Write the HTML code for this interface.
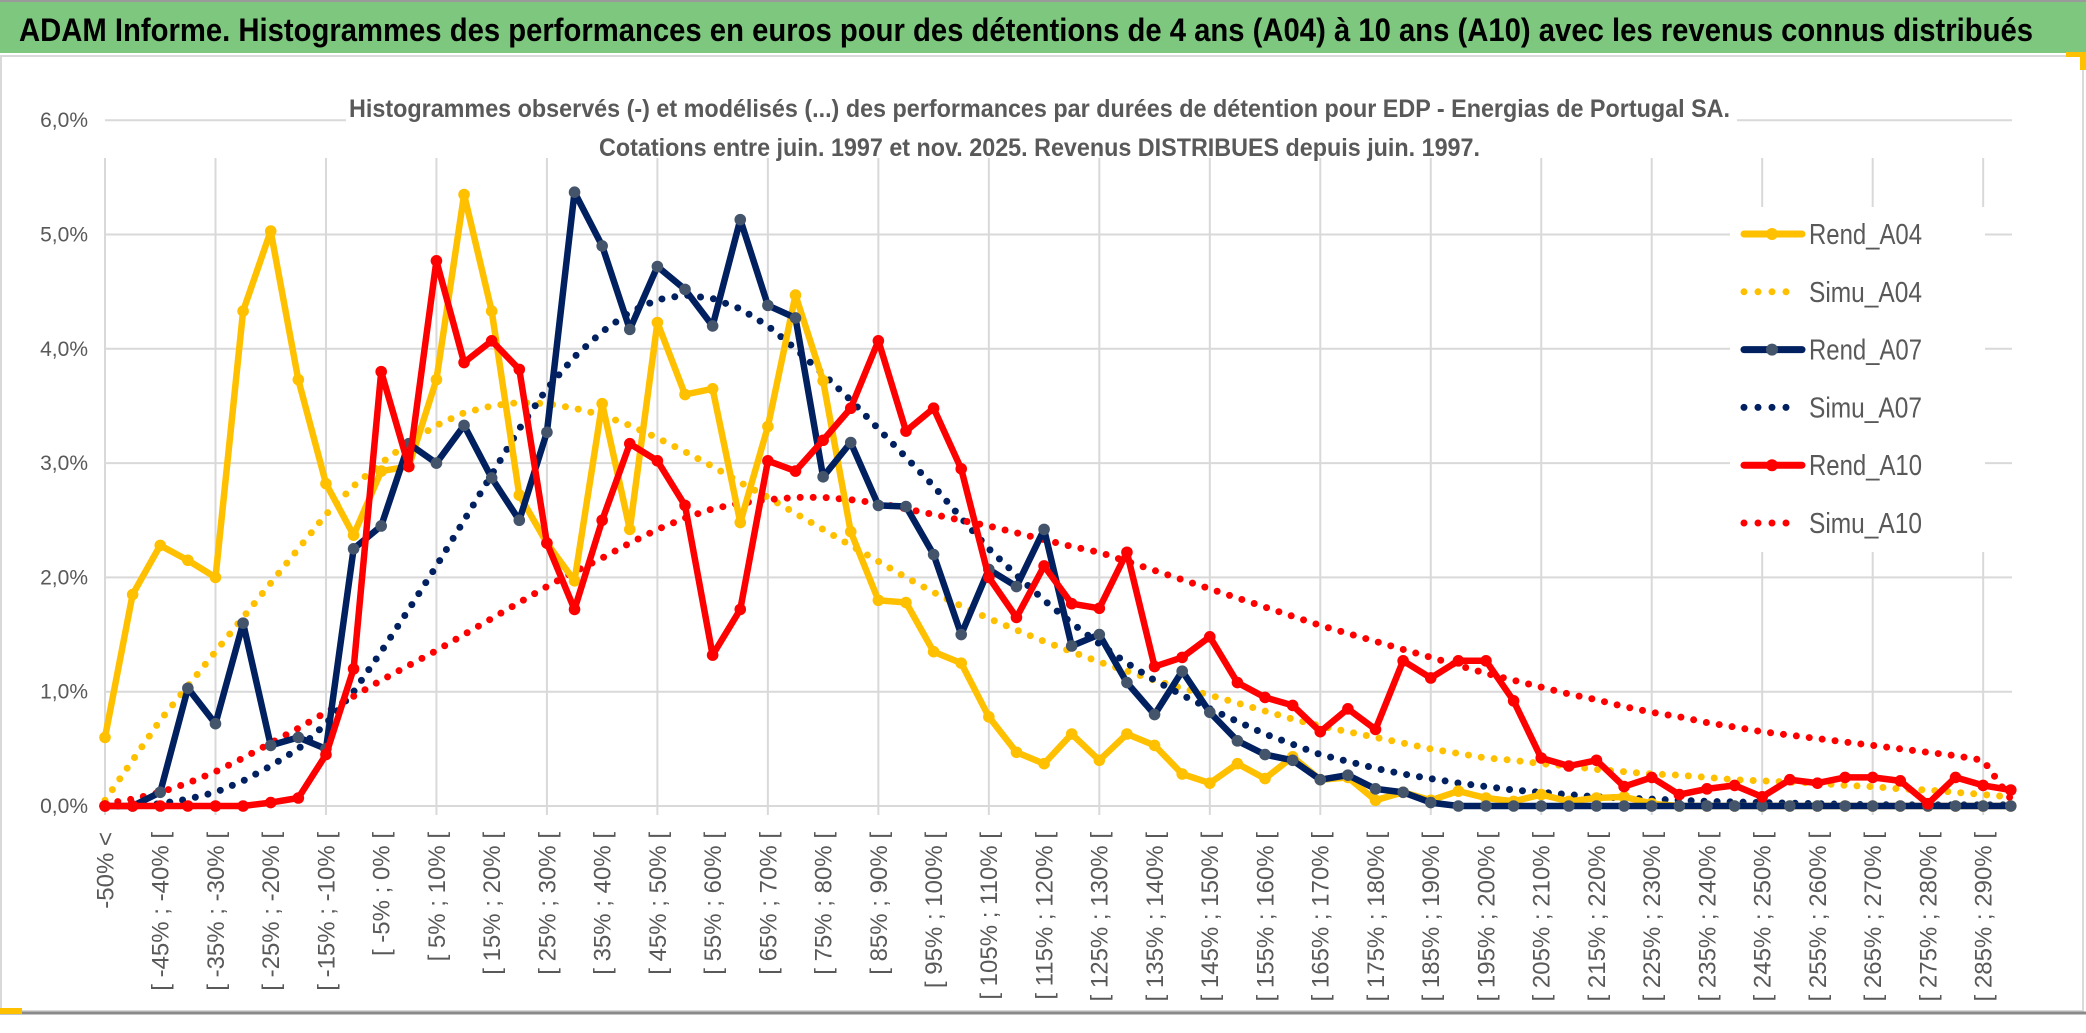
<!DOCTYPE html>
<html><head><meta charset="utf-8">
<style>
html,body{margin:0;padding:0;background:#fff;}
body{width:2086px;height:1033px;overflow:hidden;position:relative;}
svg{position:absolute;left:0;top:0;}
</style></head>
<body>
<svg id="chart" width="2086" height="1033" viewBox="0 0 2086 1033">
  <rect x="0" y="0" width="2086" height="1033" fill="#ffffff"/>
  <rect x="0" y="0" width="2086" height="53" fill="#7ec77e"/>
  <line x1="0" y1="1" x2="2086" y2="1" stroke="#9a9a9a" stroke-width="2"/>
  <text x="19" y="41" font-family="'Liberation Sans Narrow','Liberation Sans',sans-serif" font-weight="bold" font-size="32" fill="#000" textLength="2014" lengthAdjust="spacingAndGlyphs">ADAM Informe. Histogrammes des performances en euros pour des détentions de 4 ans (A04) à 10 ans (A10) avec les revenus connus distribués</text>
  <rect x="1" y="56" width="2082" height="955" fill="#fff" stroke="#d9d9d9" stroke-width="2"/>
  <rect x="2066" y="52" width="18" height="5" fill="#ffc000"/>
  <rect x="2080" y="52" width="6" height="18" fill="#ffc000"/>
  <line x1="0" y1="1013" x2="2086" y2="1013" stroke="#8a8a8a" stroke-width="3"/>
  <rect x="0" y="1008" width="22" height="6" fill="#ffc000"/>
  <g id="grid"></g>
  <g id="yaxis"></g>
  <g id="xaxis"></g>
  <rect x="346" y="88" width="1391" height="70" fill="#fff"/>
  <text x="349" y="117" font-family="'Liberation Sans Narrow','Liberation Sans',sans-serif" font-weight="bold" font-size="25" fill="#595959" textLength="1381" lengthAdjust="spacingAndGlyphs">Histogrammes observés (-) et modélisés (...) des performances  par durées de détention pour EDP - Energias de Portugal SA.</text>
  <text x="599" y="156" font-family="'Liberation Sans Narrow','Liberation Sans',sans-serif" font-weight="bold" font-size="25" fill="#595959" textLength="881" lengthAdjust="spacingAndGlyphs">Cotations entre juin. 1997 et nov. 2025. Revenus DISTRIBUES depuis juin. 1997.</text>
  <g id="series"></g>
  <g id="legend"></g>
</svg>
<script>
const rendA04 = [0.6,1.85,2.28,2.15,2.0,4.33,5.03,3.73,2.82,2.37,2.93,2.97,3.73,5.35,4.33,2.72,2.3,1.97,3.52,2.42,4.23,3.6,3.65,2.48,3.32,4.47,3.72,2.4,1.8,1.78,1.35,1.25,0.78,0.47,0.37,0.63,0.4,0.63,0.53,0.28,0.2,0.37,0.24,0.43,0.23,0.25,0.05,0.12,0.05,0.13,0.07,0.04,0.1,0.04,0.07,0.08,0.02,0,0,0,0,0,0,0,0,0,0,0,0,0];
const simuA04 = [0.05,0.4,0.75,1.05,1.35,1.65,1.95,2.25,2.55,2.8,3.0,3.18,3.33,3.44,3.5,3.53,3.52,3.48,3.42,3.33,3.22,3.1,2.97,2.83,2.7,2.56,2.42,2.28,2.14,2.0,1.87,1.75,1.64,1.54,1.44,1.35,1.26,1.18,1.1,1.03,0.97,0.9,0.83,0.76,0.7,0.65,0.6,0.55,0.5,0.46,0.42,0.4,0.37,0.35,0.32,0.3,0.28,0.27,0.25,0.23,0.22,0.21,0.2,0.18,0.17,0.15,0.14,0.12,0.1,0.08];
const rendA07 = [0,0,0.12,1.03,0.72,1.6,0.53,0.6,0.5,2.25,2.45,3.17,3.0,3.33,2.87,2.5,3.27,5.37,4.9,4.17,4.72,4.52,4.2,5.13,4.38,4.27,2.88,3.18,2.63,2.62,2.2,1.5,2.07,1.92,2.42,1.4,1.5,1.08,0.8,1.18,0.82,0.57,0.45,0.4,0.23,0.27,0.15,0.12,0.03,0,0,0,0,0,0,0,0,0,0,0,0,0,0,0,0,0,0,0,0,0];
const simuA07 = [0,0,0.02,0.06,0.12,0.22,0.35,0.5,0.72,1.0,1.35,1.72,2.1,2.5,2.9,3.3,3.65,3.93,4.15,4.32,4.43,4.47,4.44,4.35,4.2,4.0,3.78,3.55,3.3,3.05,2.8,2.52,2.25,2.02,1.8,1.6,1.42,1.25,1.1,0.97,0.85,0.74,0.63,0.54,0.45,0.39,0.33,0.28,0.24,0.2,0.17,0.14,0.12,0.1,0.08,0.07,0.06,0.05,0.04,0.035,0.03,0.025,0.02,0.015,0.012,0.01,0.01,0.01,0.01,0.01];
const rendA10 = [0,0,0,0,0,0,0.03,0.07,0.45,1.2,3.8,2.97,4.77,3.88,4.07,3.82,2.3,1.72,2.5,3.17,3.02,2.63,1.32,1.72,3.02,2.93,3.2,3.48,4.07,3.28,3.48,2.95,2.0,1.65,2.1,1.77,1.73,2.22,1.22,1.3,1.48,1.08,0.95,0.88,0.65,0.85,0.67,1.27,1.12,1.27,1.27,0.92,0.42,0.35,0.4,0.17,0.25,0.1,0.15,0.18,0.08,0.23,0.2,0.25,0.25,0.22,0.02,0.25,0.18,0.14];
const simuA10 = [0.02,0.06,0.12,0.2,0.3,0.42,0.55,0.68,0.82,0.96,1.1,1.23,1.36,1.5,1.64,1.78,1.92,2.05,2.17,2.3,2.42,2.52,2.6,2.65,2.68,2.7,2.7,2.68,2.65,2.6,2.55,2.5,2.45,2.39,2.33,2.27,2.22,2.14,2.06,1.98,1.9,1.82,1.74,1.66,1.58,1.51,1.44,1.37,1.3,1.23,1.16,1.1,1.04,0.98,0.93,0.87,0.82,0.78,0.73,0.69,0.65,0.62,0.59,0.56,0.53,0.5,0.47,0.44,0.4,0.06];
const yTicks = [0,1,2,3,4,5,6];
const yTickLabels = ["0,0%","1,0%","2,0%","3,0%","4,0%","5,0%","6,0%"];
const nCats = 70;
const firstCatLabel = "-50% <";
const binStart = -50, binWidth = 5;

const NS = "http://www.w3.org/2000/svg";
const X0 = 105, XSTEP = 27.62, Y0 = 806, YPER = 114.3;
function xs(i){ return X0 + i*XSTEP; }
function ys(v){ return Y0 - v*YPER; }
function mk(tag, attrs, parent){ const e=document.createElementNS(NS,tag); for(const k in attrs) e.setAttribute(k,attrs[k]); parent.appendChild(e); return e; }
const FN = "'Liberation Sans Narrow','Liberation Sans',sans-serif";

const grid = document.getElementById('grid');
yTicks.forEach((t,k)=>{
  const l = mk('line',{x1:X0,x2:2012,y1:ys(t),y2:ys(t),stroke:'#d9d9d9','stroke-width':2},grid);
  
  
});
for(let i=0;i<nCats;i+=4){
  const l = mk('line',{x1:xs(i),x2:xs(i),y1:158,y2:815,stroke:'#d9d9d9','stroke-width':2},grid);
  
  
}
const yaxis = document.getElementById('yaxis');
yTicks.forEach((t,k)=>{
  const tx = mk('text',{x:88,y:ys(t)+7,'text-anchor':'end','font-family':FN,'font-size':21,fill:'#595959'},yaxis);
  tx.textContent = yTickLabels[k];
  
  
});
const xaxis = document.getElementById('xaxis');
for(let i=0;i<nCats;i+=2){
  let s;
  if(i===0) s = firstCatLabel;
  else { const a = binStart + binWidth*(i-1); s = "[ "+a+"% ; "+(a+binWidth)+"% ["; }
  const x = xs(i), y = 832;
  const tx = mk('text',{x:x,y:y,transform:`rotate(-90 ${x} ${y})`,'text-anchor':'end','font-family':"'Liberation Sans',sans-serif",'font-size':24,fill:'#595959',dy:'0.35em'},xaxis);
  tx.textContent = s;
  
  
}

const seriesG = document.getElementById('series');
function pathOf(arr){ return arr.map((v,i)=>(i?'L':'M')+xs(i).toFixed(1)+' '+ys(v).toFixed(1)).join(' '); }
function dotted(arr,color,name){
  const p = mk('path',{d:pathOf(arr),fill:'none',stroke:color,'stroke-width':7,'stroke-linecap':'round','stroke-dasharray':'0 13'},seriesG);
  
  
}
function solid(arr,color,mcolor,name){
  const p = mk('path',{d:pathOf(arr),fill:'none',stroke:color,'stroke-width':6.5,'stroke-linejoin':'round'},seriesG);
  
  
  arr.forEach((v,i)=>{
    const c = mk('circle',{cx:xs(i),cy:ys(v),r:5.8,fill:mcolor},seriesG);
    
    
  });
}
dotted(simuA04,'#ffc000','simu-a04-line');
dotted(simuA07,'#002060','simu-a07-line');
dotted(simuA10,'#ff0000','simu-a10-line');
solid(rendA04,'#ffc000','#ffc000','rend-a04-line');
solid(rendA07,'#002060','#44546a','rend-a07-line');
solid(rendA10,'#ff0000','#ff0000','rend-a10-line');

const legend = document.getElementById('legend');
const lbg = mk('rect',{x:1730,y:207,width:255,height:345,fill:'#fff'},legend);


const legItems = [["Rend_A04",'#ffc000','#ffc000',false],["Simu_A04",'#ffc000',null,true],["Rend_A07",'#002060','#44546a',false],["Simu_A07",'#002060',null,true],["Rend_A10",'#ff0000','#ff0000',false],["Simu_A10",'#ff0000',null,true]];
legItems.forEach((it,k)=>{
  const y = 234 + k*57.8;
  const g = mk('g',{},legend);
  
  
  if(it[3]){
    mk('line',{x1:1744,x2:1800,y1:y,y2:y,stroke:it[1],'stroke-width':7,'stroke-linecap':'round','stroke-dasharray':'0 14'},g);
  } else {
    mk('line',{x1:1744,x2:1802,y1:y,y2:y,stroke:it[1],'stroke-width':7,'stroke-linecap':'round'},g);
    mk('circle',{cx:1772,cy:y,r:6,fill:it[2]},g);
  }
  const t = mk('text',{x:1809,y:y+10,'font-family':FN,'font-size':29,fill:'#595959',textLength:113,lengthAdjust:'spacingAndGlyphs'},g);
  t.textContent = it[0];
});
</script>
</body></html>
